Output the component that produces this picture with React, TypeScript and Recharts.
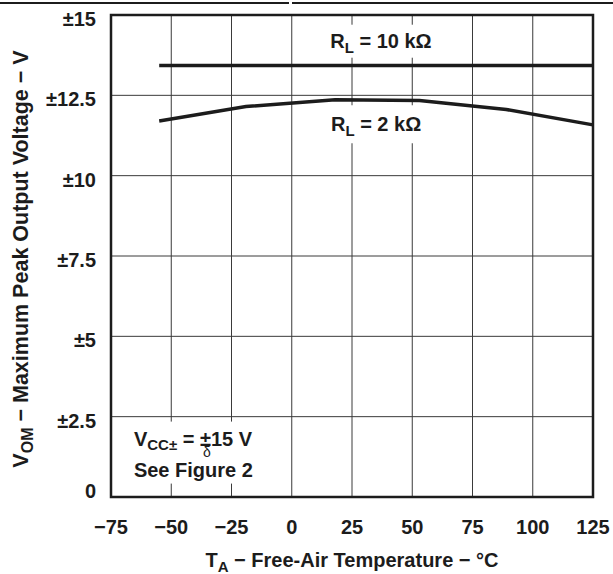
import React from 'react';
import {
  LineChart,
  Line,
  XAxis,
  YAxis,
  CartesianGrid,
  ReferenceArea,
  ReferenceDot
} from 'recharts';

// free-air temperature, degC
const xTicks = [-75, -50, -25, 0, 25, 50, 75, 100, 125];
const xTickLabels = ['\u221275', '\u221250', '\u221225', '0', '25', '50', '75', '100', '125'];

// peak output voltage, V
const yTicks = [0, 2.5, 5, 7.5, 10, 12.5, 15];
const yTickLabels = ['0', '\u00b12.5', '\u00b15', '\u00b17.5', '\u00b110', '\u00b112.5', '\u00b115'];

// RL = 10 kOhm
const temps10k = [-55, 125];
const vom10k = [13.43, 13.43];

// RL = 2 kOhm
const temps2k = [-55, -19, 18, 53, 89, 125];
const vom2k = [11.7, 12.15, 12.36, 12.34, 12.06, 11.58];

const data10k = temps10k.map((t, i) => ({ t, v: vom10k[i] }));
const data2k = temps2k.map((t, i) => ({ t, v: vom2k[i] }));

const FONT = '"Liberation Sans", Arial, Helvetica, sans-serif';
const INK = '#1c1c1c';

const XTick = (props: any) => {
  const { x, y, payload } = props;
  const i = xTicks.indexOf(payload.value);
  return (
    <text x={x} y={y + 29} textAnchor="middle" fontFamily={FONT} fontWeight={700} fontSize={20} fill={INK}>
      {xTickLabels[i]}
    </text>
  );
};

const YTick = (props: any) => {
  const { x, y, payload } = props;
  const i = yTicks.indexOf(payload.value);
  const dy = payload.value === 0 ? 1 : 11;
  return (
    <text x={x - 7} y={y + dy} textAnchor="end" fontFamily={FONT} fontWeight={700} fontSize={20} fill={INK}>
      {yTickLabels[i]}
    </text>
  );
};

const XTitle = (props: any) => {
  const { viewBox } = props;
  const cx = viewBox.x + viewBox.width / 2;
  return (
    <text x={cx} y={viewBox.y + 70} textAnchor="middle" fontFamily={FONT} fontWeight={700} fontSize={20} fill={INK}>
      T<tspan fontSize={15} dy={5}>A</tspan>
      <tspan dy={-5}>{' \u2212 Free-Air Temperature \u2212 \u00b0C'}</tspan>
    </text>
  );
};

const YTitle = () => (
  <text
    x={28}
    y={259}
    transform="rotate(-90 28 259)"
    textAnchor="middle"
    fontFamily={FONT}
    fontWeight={700}
    fontSize={21.5}
    fill={INK}
  >
    V<tspan fontSize={16} dy={5}>OM</tspan>
    <tspan dy={-5}>{' \u2212 Maximum Peak Output Voltage \u2212 V'}</tspan>
  </text>
);

const Label10k = (props: any) => {
  const { cx, cy } = props;
  return (
    <g>
      <rect x={cx - 60} y={cy - 16} width={120} height={33} fill="#fff" />
      <text x={cx} y={cy + 7} textAnchor="middle" fontFamily={FONT} fontWeight={700} fontSize={20} fill={INK}>
        R<tspan fontSize={15} dy={5}>L</tspan>
        <tspan dy={-5}>{' = 10 k\u03a9'}</tspan>
      </text>
    </g>
  );
};

const Label2k = (props: any) => {
  const { cx, cy } = props;
  return (
    <g>
      <rect x={cx - 54} y={cy - 19} width={108} height={38} fill="#fff" />
      <text x={cx} y={cy + 7} textAnchor="middle" fontFamily={FONT} fontWeight={700} fontSize={20} fill={INK}>
        R<tspan fontSize={15} dy={5}>L</tspan>
        <tspan dy={-5}>{' = 2 k\u03a9'}</tspan>
      </text>
    </g>
  );
};

const LabelVcc = (props: any) => {
  const { cx, cy } = props;
  return (
    <g>
      <rect x={cx - 6} y={cy - 24} width={134} height={62} fill="#fff" />
      <text x={cx} y={cy} fontFamily={FONT} fontWeight={700} fontSize={20} fill={INK}>
        V<tspan fontSize={15} dy={4}>{'CC\u00b1'}</tspan>
        <tspan dy={-4}>{' = \u00b115 V'}</tspan>
      </text>
      {/* stray glyph under the ± sign, as printed in the source */}
      <text x={cx + 73} y={cy + 11} textAnchor="middle" fontFamily={FONT} fontSize={14} fill={INK}>
        {'\u03b4'}
      </text>
      <text x={cx} y={cy + 31} fontFamily={FONT} fontWeight={700} fontSize={20} fill={INK}>
        See Figure 2
      </text>
    </g>
  );
};

export default function App() {
  return (
    <div style={{ position: 'absolute', left: 0, top: 0, width: 613, height: 574, background: '#fff' }}>
      <div style={{ position: 'absolute', left: 0, top: 2, width: 289, height: 1.5, background: INK }} />
      <div style={{ position: 'absolute', left: 292, top: 2, width: 321, height: 1.5, background: INK }} />
      <LineChart width={613} height={574} margin={{ top: 15, right: 20, left: 51, bottom: 47 }}>
        <CartesianGrid stroke="#3a3a3a" strokeWidth={1} />
        <XAxis
          dataKey="t"
          type="number"
          domain={[-75, 125]}
          ticks={xTicks}
          tickLine={false}
          axisLine={false}
          tick={<XTick />}
          height={30}
          label={{ content: <XTitle /> }}
        />
        <YAxis
          type="number"
          domain={[0, 15]}
          ticks={yTicks}
          tickLine={false}
          axisLine={false}
          tick={<YTick />}
          width={60}
        />
        <ReferenceArea x1={-75} x2={125} y1={0} y2={15} fill="none" stroke={INK} strokeWidth={2.5} ifOverflow="visible" />
        <Line data={data10k} dataKey="v" stroke={INK} strokeWidth={3.5} dot={false} isAnimationActive={false} />
        <Line data={data2k} dataKey="v" stroke={INK} strokeWidth={3.5} dot={false} isAnimationActive={false} />
        <ReferenceDot x={37} y={14.2} r={0} shape={<Label10k />} ifOverflow="visible" />
        <ReferenceDot x={35} y={11.6} r={0} shape={<Label2k />} ifOverflow="visible" />
        <ReferenceDot x={-65.5} y={1.6} r={0} shape={<LabelVcc />} ifOverflow="visible" />
        <YTitle />
      </LineChart>
    </div>
  );
}
